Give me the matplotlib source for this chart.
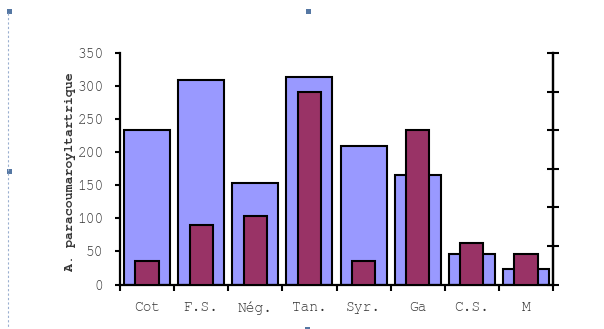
import matplotlib
matplotlib.use("Agg")
import matplotlib.pyplot as plt
from matplotlib.patches import Rectangle
from matplotlib.lines import Line2D
import numpy as np
import logging

logging.getLogger("matplotlib.font_manager").setLevel(logging.ERROR)

categories = ["Cot", "F.S.", "Nég.", "Tan.", "Syr.", "Ga", "C.S.", "M"]
wide_values = [233, 309, 154, 314, 209, 165, 46, 24]
narrow_values = [35, 90, 104, 291, 35, 233, 63, 46]
y_ticks = [0, 50, 100, 150, 200, 250, 300, 350]
y_label = "A. paracoumaroyltartrique"

mono = ["Nimbus Mono PS", "FreeMono", "Courier New", "Liberation Mono"]
text_color = "#333333"

fig = plt.figure(figsize=(6.04, 3.29), dpi=100)
ax = fig.add_axes([120 / 604, 44.5 / 329, 433 / 604, 231.5 / 329])

x = np.arange(len(categories))
ax.bar(x, wide_values, width=0.85, color="#9999FF", edgecolor="black",
       linewidth=1.5, zorder=2)
ax.bar(x, narrow_values, width=0.43, color="#993366", edgecolor="black",
       linewidth=1.5, zorder=3)

ax.set_xlim(-0.5, len(categories) - 0.5)
ax.set_ylim(0, 350)

for side in ("left", "bottom", "right"):
    ax.spines[side].set_linewidth(1.6)
    ax.spines[side].set_color("black")
ax.spines["top"].set_visible(False)

# category boundaries carry tick marks, centres carry the labels
ax.set_xticks(np.arange(-0.5, len(categories), 1.0))
ax.set_xticklabels([])
ax.set_xticks(x, minor=True)
ax.set_xticklabels(categories, minor=True, fontfamily=mono, fontsize=10.5,
                   color=text_color)
ax.tick_params(axis="x", which="major", direction="out", length=4.5,
               width=1.5, color="black")
ax.tick_params(axis="x", which="minor", length=0, pad=12)

ax.set_yticks(y_ticks)
ax.set_yticklabels([str(v) for v in y_ticks], fontfamily=mono, fontsize=10.5,
                   color=text_color)
ax.tick_params(axis="y", direction="out", length=3.8, width=1.5, pad=8)

# secondary right axis with six divisions, unlabelled
ax2 = ax.twinx()
ax2.set_ylim(0, 6)
ax2.set_yticks(range(7))
ax2.set_yticklabels([])
ax2.tick_params(axis="y", direction="inout", length=8, width=1.5)
for side in ("left", "bottom", "top"):
    ax2.spines[side].set_visible(False)
ax2.spines["right"].set_linewidth(1.6)

fig.text(70 / 604, 1 - 172 / 329, y_label, rotation=90, ha="center",
         va="center", fontfamily=mono, fontsize=9.5, fontweight="bold",
         color=text_color)

# frame handles around the embedded object
handle_color = "#5577A3"
fig.add_artist(Line2D([8 / 604, 8 / 604], [1 - 13 / 329, 0], transform=fig.transFigure,
                      color="#9AAFD0", linewidth=0.8, linestyle=(0, (2, 2))))
for hx, hy in [(9.5, 11), (9.5, 171), (308.5, 11), (307.5, 329)]:
    fig.add_artist(Rectangle(((hx - 2.5) / 604, 1 - (hy + 2.5) / 329),
                             5 / 604, 5 / 329, transform=fig.transFigure,
                             facecolor=handle_color, edgecolor="none"))

fig.savefig("out.png", dpi=100)
